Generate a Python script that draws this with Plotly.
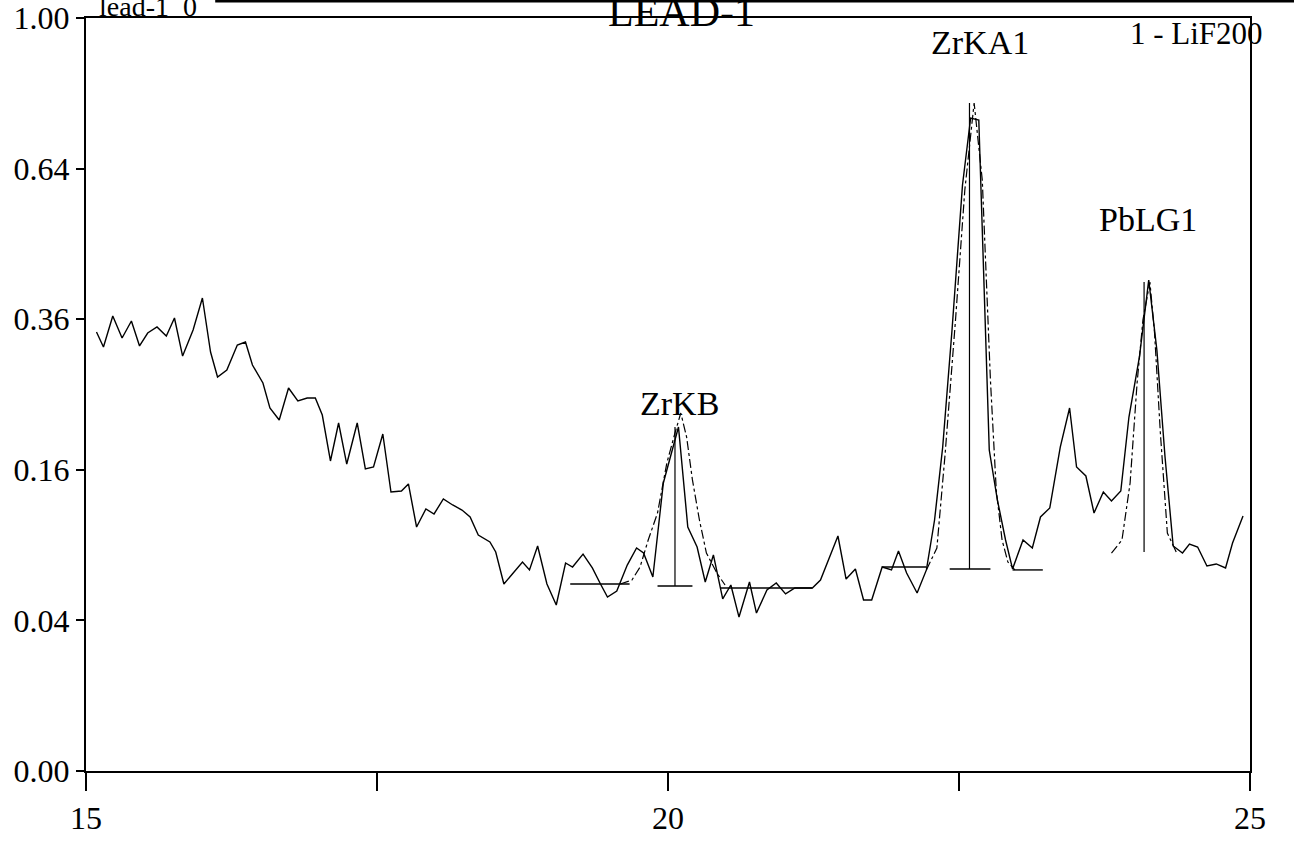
import numpy as np
import plotly.graph_objects as go

# ---- measured spectrum (2-theta in degrees, intensity) ----
spec_x = [15.09, 15.15, 15.23, 15.31, 15.39, 15.46, 15.53, 15.61, 15.69, 15.76,
          15.83, 15.92, 16.00, 16.07, 16.13, 16.21, 16.30, 16.37, 16.43, 16.52,
          16.58, 16.66, 16.74, 16.82, 16.90, 16.97, 17.03, 17.10, 17.17, 17.24,
          17.33, 17.40, 17.47, 17.55, 17.62, 17.71, 17.77, 17.84, 17.92, 17.99,
          18.07, 18.15, 18.23, 18.30, 18.37, 18.47, 18.52, 18.59, 18.67, 18.75,
          18.81, 18.88, 18.96, 19.04, 19.12, 19.18, 19.27, 19.35, 19.42, 19.48,
          19.56, 19.65, 19.73, 19.79, 19.87, 19.96, 20.09, 20.17, 20.25, 20.32,
          20.39, 20.47, 20.54, 20.61, 20.70, 20.76, 20.85, 20.93, 21.01, 21.09,
          21.16, 21.24, 21.31, 21.39, 21.46, 21.53, 21.61, 21.68, 21.75, 21.84,
          21.92, 21.98, 22.05, 22.14, 22.22, 22.29, 22.36, 22.44, 22.53, 22.60,
          22.67, 22.76, 22.83, 22.90, 22.96, 23.05, 23.13, 23.20, 23.28, 23.37,
          23.45, 23.51, 23.59, 23.66, 23.74, 23.81, 23.89, 23.96, 24.05, 24.13,
          24.20, 24.27, 24.34, 24.42, 24.48, 24.55, 24.63, 24.71, 24.79, 24.85,
          24.94]
spec_y = [0.3399, 0.3171, 0.3651, 0.3307, 0.3571, 0.3186, 0.3383, 0.3477, 0.3337, 0.3619,
          0.3037, 0.3430, 0.3946, 0.3096, 0.2738, 0.2836, 0.3200, 0.3246, 0.2907, 0.2655,
          0.2324, 0.2173, 0.2587, 0.2414, 0.2454, 0.2454, 0.2235, 0.1695, 0.2136, 0.1662,
          0.2136, 0.1609, 0.1630, 0.2003, 0.1373, 0.1383, 0.1453, 0.1050, 0.1211, 0.1165,
          0.1305, 0.1248, 0.1201, 0.1138, 0.0982, 0.0925, 0.0846, 0.0617, 0.0691, 0.0770,
          0.0713, 0.0893, 0.0617, 0.0486, 0.0763, 0.0734, 0.0830, 0.0727, 0.0617, 0.0534,
          0.0571, 0.0748, 0.0877, 0.0838, 0.0664, 0.1463, 0.2087, 0.1050, 0.0885, 0.0630,
          0.0823, 0.0522, 0.0610, 0.0418, 0.0630, 0.0440, 0.0578, 0.0623, 0.0553, 0.0591,
          0.0591, 0.0591, 0.0643, 0.0808, 0.0974, 0.0650, 0.0720, 0.0516, 0.0516, 0.0734,
          0.0713, 0.0854, 0.0691, 0.0559, 0.0713, 0.1111, 0.1851, 0.3430, 0.6056, 0.7520,
          0.7474, 0.1817, 0.1295, 0.0941, 0.0720, 0.0941, 0.0877, 0.1138, 0.1220, 0.1851,
          0.2324, 0.1630, 0.1535, 0.1174, 0.1373, 0.1286, 0.1383, 0.2210, 0.3023, 0.4252,
          0.3126, 0.1739, 0.0893, 0.0838, 0.0909, 0.0885, 0.0741, 0.0756, 0.0727, 0.0917,
          0.1147]

# ---- fitted peak profiles ----
zrkb_fit_x = [19.59, 19.69, 19.76, 19.83, 19.91, 19.99, 20.06, 20.11, 20.16, 20.21,
              20.27, 20.33, 20.42, 20.49]
zrkb_fit_y = [0.0617, 0.0643, 0.0734, 0.0941, 0.1174, 0.1673, 0.2015, 0.2260, 0.1967, 0.1494,
              0.1111, 0.0838, 0.0691, 0.0610]
zrka1_fit_x = [22.22, 22.31, 22.38, 22.47, 22.55, 22.63, 22.70, 22.77, 22.82, 22.87, 22.92, 22.98]
zrka1_fit_y = [0.0713, 0.0877, 0.1761, 0.3587, 0.5953, 0.7870, 0.6160, 0.2696, 0.1393, 0.0941,
               0.0770, 0.0713]
pblg1_fit_x = [23.81, 23.90, 23.97, 24.03, 24.08, 24.14, 24.18, 24.23, 24.29, 24.37]
pblg1_fit_y = [0.0838, 0.0941, 0.1463, 0.2655, 0.3587, 0.4217, 0.3383, 0.2015, 0.0999, 0.0838]

# ---- peak markers: position, top, bottom, foot extent ----
peak_names = ["ZrKB", "ZrKA1", "PbLG1"]
peak_pos = [20.06, 22.59, 24.09]
peak_top = [0.2087, 0.7870, 0.4217]
peak_bottom = [0.0604, 0.0720, 0.0846]
foot_left = [19.91, 22.42, None]
foot_right = [20.21, 22.77, None]

# ---- background segments ----
bg_x0 = [19.16, 20.45, 21.84, 22.96]
bg_x1 = [19.67, 21.24, 22.22, 23.22]
bg_y = [0.0617, 0.0591, 0.0734, 0.0713]

# ---- axis ticks ----
ytick_vals = [0.00, 0.04, 0.16, 0.36, 0.64, 1.00]
ytick_text = ["0.00", "0.04", "0.16", "0.36", "0.64", "1.00"]
xtick_vals = [15, 17.5, 20, 22.5, 25]
xtick_text = ["15", "", "20", "", "25"]

FONT = "Liberation Serif, Times New Roman, serif"

def sq(v):
    return np.sqrt(np.asarray(v, dtype=float))

fig = go.Figure()
fig.add_trace(go.Scatter(x=spec_x, y=sq(spec_y), mode="lines",
                         line=dict(color="black", width=1.4), showlegend=False))
for fx, fy in [(zrkb_fit_x, zrkb_fit_y), (zrka1_fit_x, zrka1_fit_y), (pblg1_fit_x, pblg1_fit_y)]:
    fig.add_trace(go.Scatter(x=fx, y=sq(fy), mode="lines",
                             line=dict(color="black", width=1.2, dash="dashdot"), showlegend=False))
for p, t, b, fl, fr in zip(peak_pos, peak_top, peak_bottom, foot_left, foot_right):
    fig.add_trace(go.Scatter(x=[p, p], y=sq([t, b]), mode="lines",
                             line=dict(color="black", width=1.2), showlegend=False))
    if fl is not None:
        fig.add_trace(go.Scatter(x=[fl, fr], y=sq([b, b]), mode="lines",
                                 line=dict(color="black", width=1.4), showlegend=False))
for a, b, v in zip(bg_x0, bg_x1, bg_y):
    fig.add_trace(go.Scatter(x=[a, b], y=sq([v, v]), mode="lines",
                             line=dict(color="black", width=1.4), showlegend=False))

annots = [
    dict(text="ZrKB", x=0.5103, y=0.488, size=34),
    dict(text="ZrKA1", x=0.768, y=0.968, size=34),
    dict(text="PbLG1", x=0.9124, y=0.732, size=34),
]
for a in annots:
    fig.add_annotation(text=a["text"], xref="paper", yref="paper", x=a["x"], y=a["y"],
                       showarrow=False, xanchor="center", yanchor="middle",
                       font=dict(family=FONT, size=a["size"], color="black"))
fig.add_annotation(text="LEAD-1", xref="paper", yref="paper", x=0.5112, y=1.008,
                   showarrow=False, xanchor="center", yanchor="middle",
                   font=dict(family=FONT, size=42, color="black"))
fig.add_annotation(text="lead-1\u00a0\u00a00", xref="paper", yref="paper", x=0.0095, y=1.015,
                   showarrow=False, xanchor="left", yanchor="middle",
                   font=dict(family=FONT, size=28, color="black"))
fig.add_annotation(text="1 - LiF200", xref="paper", yref="paper", x=1.0129, y=0.980,
                   showarrow=False, xanchor="right", yanchor="middle",
                   font=dict(family=FONT, size=31, color="black"))
fig.add_shape(type="line", xref="paper", yref="paper", x0=0.111, x1=1.04, y0=1.0226, y1=1.0226,
              line=dict(color="black", width=3))

fig.update_xaxes(range=[15, 25], tickvals=xtick_vals, ticktext=xtick_text,
                 ticks="outside", ticklen=18, tickwidth=2, tickcolor="black",
                 showline=True, linewidth=2, linecolor="black", mirror=True,
                 showgrid=False, zeroline=False, automargin=False,
                 tickfont=dict(family=FONT, size=32, color="black"))
fig.update_yaxes(range=[0, 1], tickvals=sq(ytick_vals), ticktext=ytick_text,
                 ticks="outside", ticklen=8, tickwidth=2, tickcolor="black",
                 showline=True, linewidth=2, linecolor="black", mirror=True,
                 showgrid=False, zeroline=False, automargin=False,
                 tickfont=dict(family=FONT, size=32, color="black"))
fig.update_layout(width=1294, height=858, plot_bgcolor="white", paper_bgcolor="white",
                  margin=dict(l=86, r=44, t=18, b=87), showlegend=False)
fig.write_html("out.html", config={"displayModeBar": False},
               post_script="document.body.style.margin='0px';")
